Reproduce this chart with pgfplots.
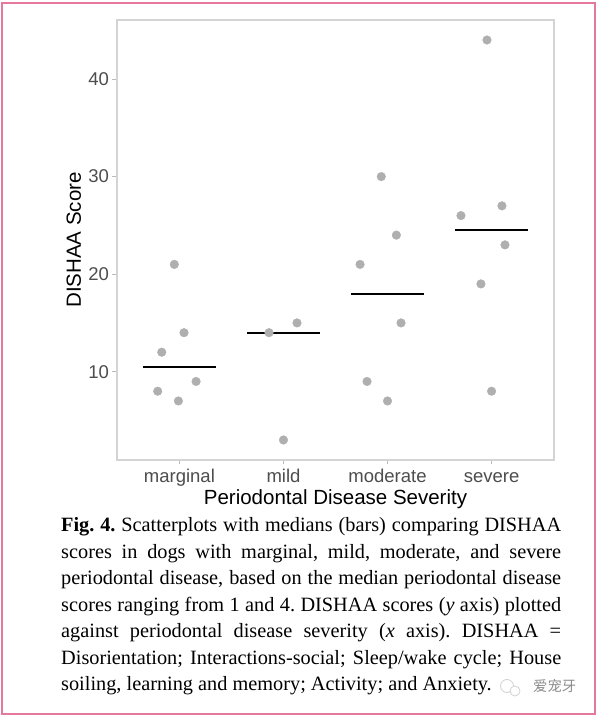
\documentclass[border=0pt]{standalone}
\usepackage{pgfplots}
\pgfplotsset{compat=1.18}
\usepackage{fontspec}
\setmainfont{Liberation Sans}
\newfontfamily\capfont{Liberation Serif}
\newfontfamily\cjk{Noto Sans CJK SC}

\definecolor{pointgray}{RGB}{175,175,175}
\definecolor{panelgray}{RGB}{212,212,212}
\definecolor{tickgray}{RGB}{185,185,185}
\definecolor{labelgray}{RGB}{77,77,77}
\definecolor{framepink}{RGB}{230,120,160}
\definecolor{markgray}{RGB}{140,140,140}

\begin{document}
\begin{tikzpicture}
\useasboundingbox (0,0) rectangle (600pt,716pt);
\fill[white] (0,0) rectangle (600pt,716pt);
\draw[framepink, line width=2pt] (2pt,2pt) rectangle (595pt,713pt);

\begin{axis}[
    at={(117pt,256pt)}, anchor=south west,
    scale only axis, width=437pt, height=440pt,
    xmin=0.4, xmax=4.6, ymin=0.95, ymax=46.05,
    xtick={1,2,3,4},
    xticklabels={marginal,mild,moderate,severe},
    ytick={10,20,30,40},
    axis line style={panelgray, line width=1.2pt},
    tick style={tickgray, line width=1pt},
    major tick length=4.5pt,
    tick align=outside,
    tick pos=left,
    /pgf/number format/assume math mode=true,
    tick label style={font=\fontsize{18.5}{20}\selectfont, text=labelgray},
    xticklabel style={anchor=base, yshift=-18.5pt},
    xlabel={Periodontal Disease Severity},
    xlabel style={at={(axis description cs:0.5,-0.1)}, anchor=base,
        font=\fontsize{20.5}{24}\selectfont},
    ylabel={DISHAA Score},
    ylabel style={at={(axis description cs:-0.0824,0.5)}, anchor=base,
        font=\fontsize{20.5}{24}\selectfont},
]

% marginal
\addplot[only marks, mark=*, mark size=4.3pt, pointgray] coordinates {
    (0.951,21) (1.044,14) (0.830,12) (1.160,9) (0.791,8) (0.990,7)
};
% mild
\addplot[only marks, mark=*, mark size=4.3pt, pointgray] coordinates {
    (1.861,14) (2.130,15) (2.000,3)
};
% moderate
\addplot[only marks, mark=*, mark size=4.3pt, pointgray] coordinates {
    (2.940,30) (3.085,24) (2.736,21) (3.130,15) (2.803,9) (3.000,7)
};
% severe
\addplot[only marks, mark=*, mark size=4.3pt, pointgray] coordinates {
    (3.956,44) (3.706,26) (4.100,27) (4.129,23) (3.898,19) (4.000,8)
};

% medians
\addplot[black, line width=2.2pt] coordinates {(0.65,10.5) (1.35,10.5)};
\addplot[black, line width=2.2pt] coordinates {(1.65,14) (2.35,14)};
\addplot[black, line width=2.2pt] coordinates {(2.65,18) (3.35,18)};
\addplot[black, line width=2.2pt] coordinates {(3.65,24.5) (4.35,24.5)};

\end{axis}

\node[anchor=base west, inner sep=0, font=\capfont\fontsize{20.3}{26.5}\selectfont]
    at (61pt,184pt) {\frenchspacing\vtop{\baselineskip=26.5pt
    \hbox to 500pt{\textbf{Fig. 4.} Scatterplots with medians (bars) comparing DISHAA}
    \hbox to 500pt{scores in dogs with marginal, mild, moderate, and severe}
    \hbox to 500pt{periodontal disease, based on the median periodontal disease}
    \hbox to 500pt{scores ranging from 1 and 4. DISHAA scores (\textit{y} axis) plotted}
    \hbox to 500pt{against periodontal disease severity (\textit{x} axis). DISHAA =}
    \hbox to 500pt{Disorientation; Interactions-social; Sleep/wake cycle; House}
    \hbox{soiling, learning and memory; Activity; and Anxiety.}}};

% watermark
\draw[gray!35, line width=0.8pt] (507pt,30pt) circle (6.5pt);
\draw[gray!35, line width=0.8pt, fill=white] (515pt,25pt) circle (5pt);
\node[anchor=base west, inner sep=0, text=markgray, font=\cjk\fontsize{14.3}{16}\selectfont]
    at (533pt,24pt) {爱宠牙};
\end{tikzpicture}
\end{document}
